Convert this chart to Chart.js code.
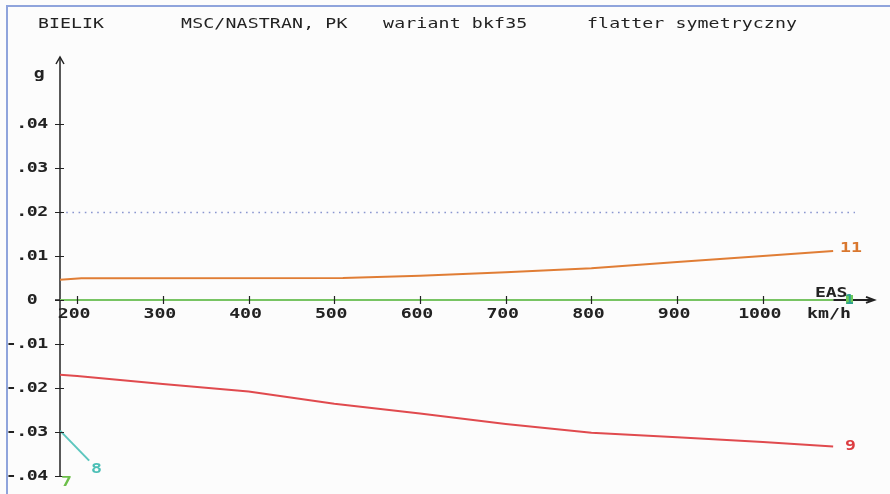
<!DOCTYPE html>
<html>
<head>
<meta charset="utf-8">
<script src="https://cdn.jsdelivr.net/npm/chart.js@4/dist/chart.umd.min.js"></script>
<style>
  body { margin: 0; background: #fcfcfc; }
  canvas { display: block; }
</style>
</head>
<body>
<canvas id="flutter" width="890" height="494"></canvas>
<script>
// EAS speed (km/h) vs damping g, one pair of arrays per mode
const mode1Speed = [180, 1082];
const mode1G = [0, 0];
const mode11Speed = [180, 205, 510, 600, 700, 800, 900, 1000, 1082];
const mode11G = [0.0046, 0.0049, 0.0050, 0.0055, 0.0063, 0.0072, 0.0086, 0.0100, 0.0111];
const mode9Speed = [180, 200, 300, 400, 500, 600, 700, 800, 900, 1000, 1082];
const mode9G = [-0.0170, -0.0173, -0.0191, -0.0208, -0.0236, -0.0258, -0.0282, -0.0302, -0.0312, -0.0323, -0.0333];
const mode8Speed = [180, 214];
const mode8G = [-0.0297, -0.0365];

const xTicks = [200, 300, 400, 500, 600, 700, 800, 900, 1000];
const yTicks = [0.04, 0.03, 0.02, 0.01, 0, -0.01, -0.02, -0.03, -0.04];
const yTickLabels = [".04", ".03", ".02", ".01", "0", "-.01", "-.02", "-.03", "-.04"];
const gLimit = 0.02;

const FONT = "'DejaVu Sans Mono', 'Liberation Mono', monospace";

function pts(xs, ys) {
  return xs.map((x, i) => ({ x: x, y: ys[i] }));
}

// old DOS-style text: fixed cell per char, glyphs stretched wide
function mono(ctx, str, x, y, adv, sx) {
  ctx.textAlign = "center";
  for (let i = 0; i < str.length; i++) {
    ctx.save();
    ctx.translate(x + i * adv + adv / 2, y);
    ctx.scale(sx || 1.3, 1);
    ctx.fillText(str[i], 0, 0);
    ctx.restore();
  }
}

const oldPlot = {
  id: "oldPlot",
  beforeDraw(chart) {
    const ctx = chart.ctx;
    const xs = chart.scales.x, ys = chart.scales.y;
    ctx.save();
    ctx.fillStyle = "#fcfcfc";
    ctx.fillRect(0, 0, chart.width, chart.height);
    // frame
    ctx.strokeStyle = "#8fa4dc";
    ctx.lineWidth = 2;
    ctx.beginPath();
    ctx.moveTo(7, 494); ctx.lineTo(7, 6); ctx.lineTo(890, 6);
    ctx.stroke();

    // dotted limit line
    const yl = Math.round(ys.getPixelForValue(gLimit)) + 0.5;
    ctx.strokeStyle = "#8a96d0";
    ctx.lineWidth = 1.6;
    ctx.setLineDash([1.6, 4.6]);
    ctx.beginPath();
    ctx.moveTo(xs.left, yl); ctx.lineTo(855, yl);
    ctx.stroke();
    ctx.setLineDash([]);

    // axes
    const x0 = xs.left, y0 = ys.getPixelForValue(0);
    ctx.strokeStyle = "#222";
    ctx.lineWidth = 1.5;
    ctx.beginPath();
    ctx.moveTo(x0, ys.top); ctx.lineTo(x0, ys.getPixelForValue(-0.04));
    ctx.moveTo(55, y0); ctx.lineTo(872, y0);
    ctx.stroke();
    ctx.restore();
  },
  afterDatasetsDraw(chart) {
    const ctx = chart.ctx;
    const xs = chart.scales.x, ys = chart.scales.y;
    const x0 = xs.left, y0 = ys.getPixelForValue(0);
    ctx.save();
    ctx.strokeStyle = "#222";
    ctx.fillStyle = "#222";
    ctx.lineWidth = 1.5;
    // y arrow
    ctx.beginPath();
    ctx.moveTo(x0 - 4, ys.top + 7); ctx.lineTo(x0, ys.top); ctx.lineTo(x0 + 4, ys.top + 7);
    ctx.stroke();
    // x arrow
    ctx.lineWidth = 2;
    ctx.beginPath();
    ctx.moveTo(834, y0); ctx.lineTo(874, y0);
    ctx.moveTo(866, y0 - 3); ctx.lineTo(874, y0); ctx.lineTo(866, y0 + 3);
    ctx.stroke();

    ctx.lineWidth = 1.2;
    ctx.beginPath();
    yTicks.forEach(v => {
      const p = Math.round(ys.getPixelForValue(v)) + 0.5;
      ctx.moveTo(55, p); ctx.lineTo(64, p);
    });
    xTicks.forEach(v => {
      const p = Math.round(xs.getPixelForValue(v)) + 0.5;
      ctx.moveTo(p, y0 - 4); ctx.lineTo(p, y0 + 4);
    });
    ctx.stroke();

    ctx.textBaseline = "middle";
    ctx.font = "bold 14px " + FONT;
    xTicks.forEach(v => {
      const s = String(v);
      const adv = 10.8;
      const c = xs.getPixelForValue(v) - 3;
      mono(ctx, s, c - s.length * adv / 2, 314, adv);
    });
    yTicks.forEach((v, i) => {
      const s = yTickLabels[i];
      const p = ys.getPixelForValue(v);
      // decimal-aligned: slots of 10.5px ending at x=48
      const slots = s === "0" ? 2 : 4 - s.length;
      mono(ctx, s, 6 + slots * 10.5, p, 10.5);
    });
    mono(ctx, "g", 34, 74, 10.5);
    mono(ctx, "EAS", 815, 293, 10.8);
    mono(ctx, "km/h", 807, 314, 11);

    // title
    ctx.font = "14px " + FONT;
    mono(ctx, "BIELIK", 38, 24, 11);
    mono(ctx, "MSC/NASTRAN, PK", 181, 24, 11.1);
    mono(ctx, "wariant bkf35", 383, 24, 11.1);
    mono(ctx, "flatter symetryczny", 587, 24, 11.05);

    // mode labels
    ctx.font = "bold 14px " + FONT;
    ctx.fillStyle = "#d9772e";
    mono(ctx, "11", 840, 248, 11);
    ctx.fillStyle = "#dc3c40";
    mono(ctx, "9", 845, 446, 11);
    ctx.fillStyle = "#4cbfb6";
    mono(ctx, "8", 91, 469, 11);
    ctx.fillStyle = "#6cbf4a";
    mono(ctx, "7", 61, 482, 11);
    ctx.fillStyle = "#6cc85a";
    ctx.fillRect(846, 295, 7, 9);
    ctx.fillStyle = "#2aa090";
    mono(ctx, "1", 844, 300, 11, 1);
    ctx.restore();
  }
};

new Chart(document.getElementById("flutter"), {
  type: "scatter",
  data: {
    datasets: [
      { label: "1", data: pts(mode1Speed, mode1G), borderColor: "#78c463" },
      { label: "11", data: pts(mode11Speed, mode11G), borderColor: "#e07d35" },
      { label: "9", data: pts(mode9Speed, mode9G), borderColor: "#e04a4e" },
      { label: "8", data: pts(mode8Speed, mode8G), borderColor: "#5cc6be" }
    ].map(d => Object.assign(d, {
      showLine: true, pointRadius: 0, borderWidth: 2, tension: 0, fill: false
    }))
  },
  options: {
    responsive: false,
    animation: false,
    events: [],
    layout: { padding: { left: 60, top: 57, right: 20, bottom: 10.1 } },
    plugins: { legend: { display: false }, tooltip: { enabled: false } },
    scales: {
      x: { type: "linear", min: 180, max: 1125, display: false },
      y: { type: "linear", min: -0.0418, max: 0.0552, display: false }
    }
  },
  plugins: [oldPlot]
});
</script>
</body>
</html>
